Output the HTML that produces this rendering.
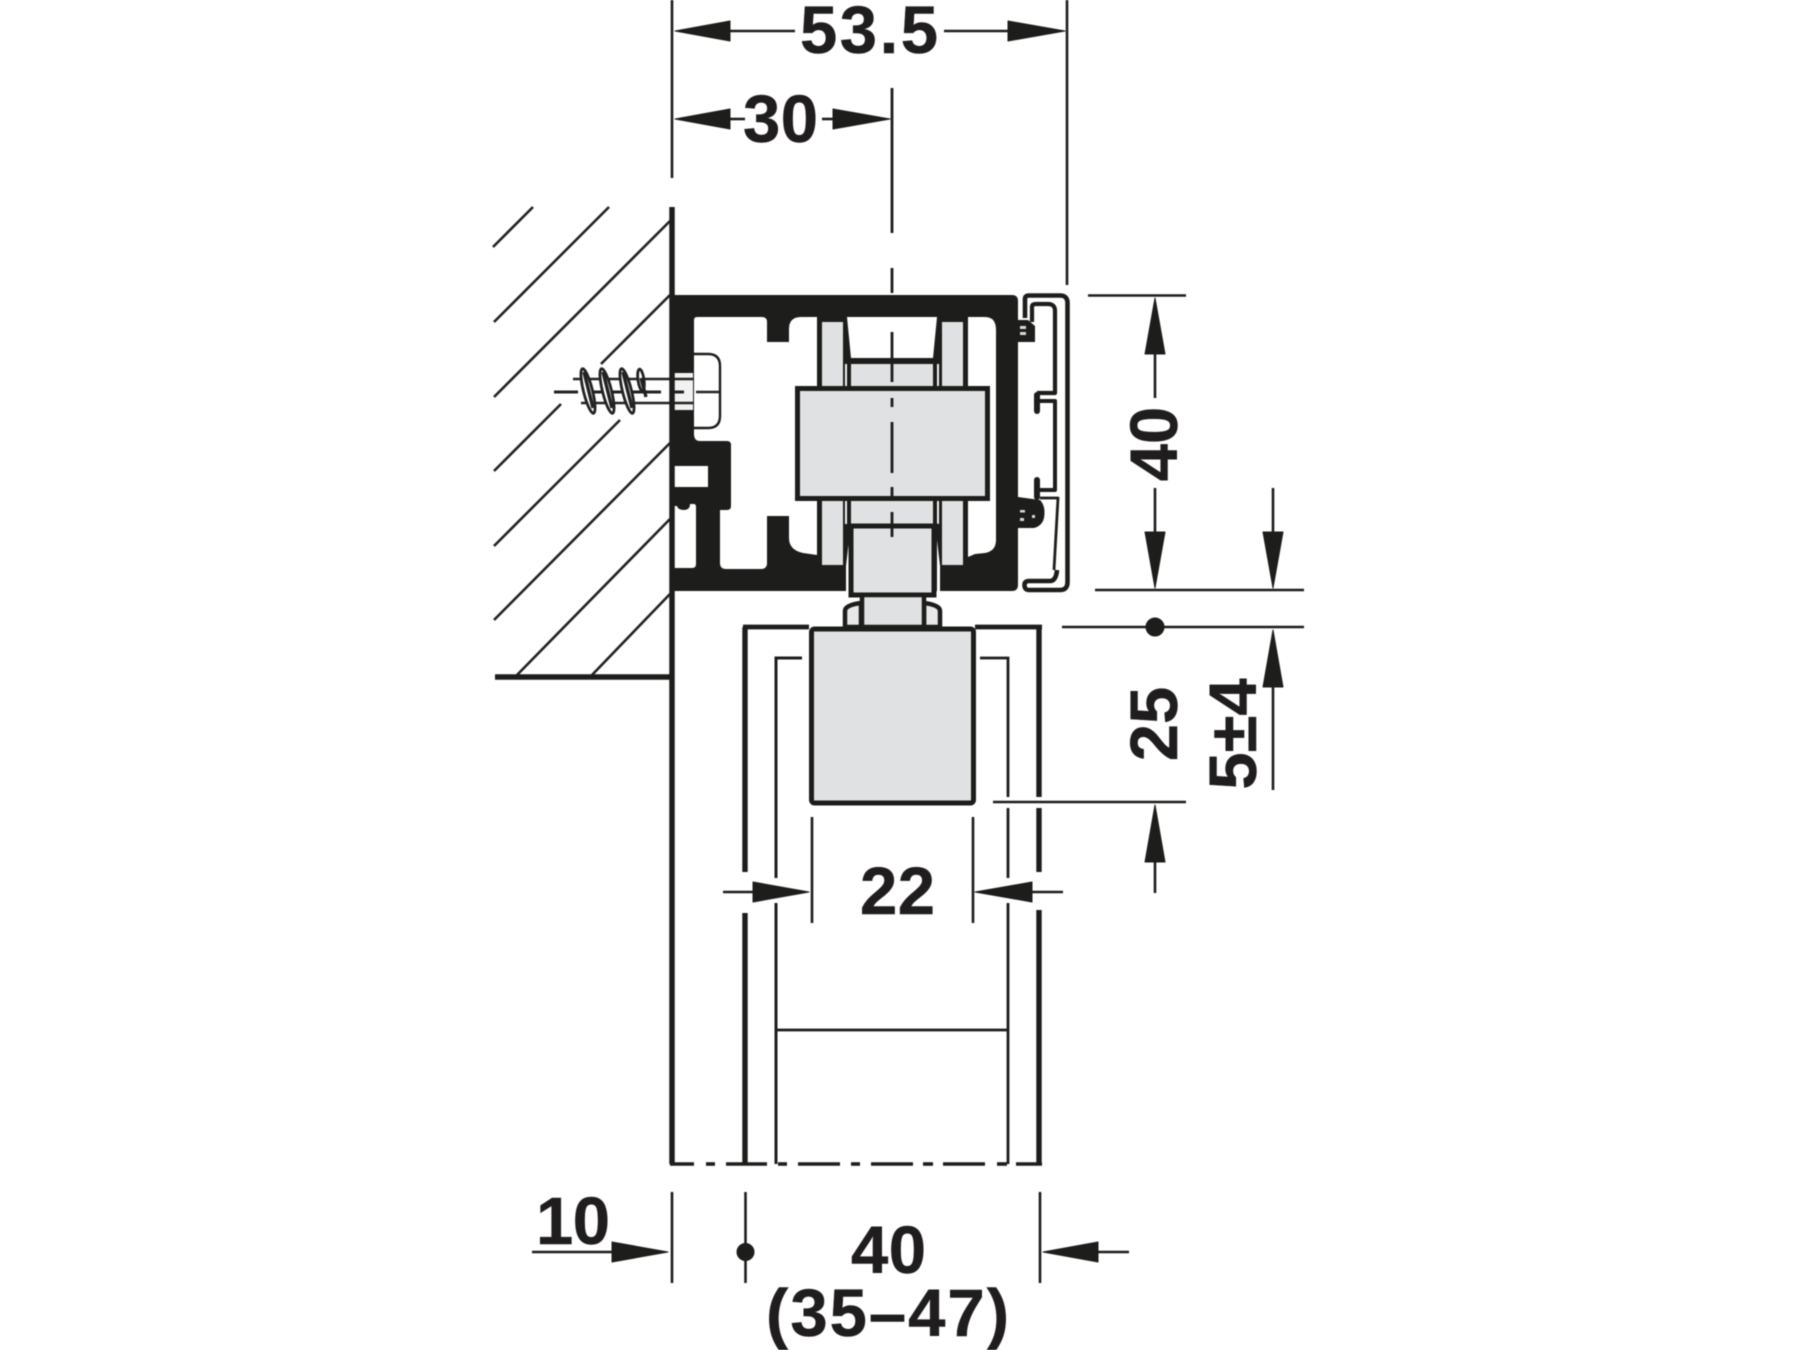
<!DOCTYPE html>
<html lang="en">
<head>
<meta charset="utf-8">
<title>Diagram</title>
<style>
html,body{margin:0;padding:0;background:#fff;width:1800px;height:1350px;overflow:hidden}
svg{display:block;filter:blur(.45px)}
text{font-family:"Liberation Sans",Arial,sans-serif;font-weight:700;font-size:67px;fill:#1f1d1e;stroke:#1f1d1e;stroke-width:.5}
</style>
</head>
<body>
<svg width="1800" height="1350" viewBox="0 0 1800 1350" xmlns="http://www.w3.org/2000/svg">
<rect width="1800" height="1350" fill="#fff"/>

<!-- hatching -->
<g stroke="#222" stroke-width="2.6" fill="none">
<line x1="493" y1="247" x2="533" y2="207"/>
<line x1="494" y1="322" x2="609" y2="207"/>
<line x1="494" y1="397" x2="670" y2="221"/>
<line x1="601" y1="364" x2="670" y2="295"/>
<line x1="561" y1="404" x2="494" y2="471"/>
<line x1="620" y1="420" x2="494" y2="546"/>
<line x1="670" y1="443" x2="494" y2="620"/>
<line x1="670" y1="519" x2="517" y2="675"/>
<line x1="670" y1="594" x2="592" y2="675"/>
</g>
<line x1="495" y1="677" x2="672" y2="677" stroke="#1d1d1b" stroke-width="5.5"/>

<!-- profile -->
<path d="M670 295H1012Q1018 295 1018 301V585Q1018 591 1012 591H670Z" fill="#1d1d1b"/>
<path d="M697 317H762Q767 317 767 322V342H789V329Q789 317 801 317H817V555L803 553Q789 550 789 538V516H767V563Q767 569 761 569H726Q720 569 720 563V510H727Q731 510 731 506V445Q731 441 727 441H700Q694 441 694 434V320Q694 317 697 317Z" fill="#fff"/>
<path d="M674 506H677Q678 510 684 510Q690 510 690 504H694Q696 504 696 507V564Q696 568 692 568H674Z" fill="#fff"/>
<rect x="674" y="466" width="34" height="21" fill="#fff"/>
<path d="M968 317H985Q996 317 996 330V540Q996 551 985 553L975 554L968 557Z" fill="#fff"/>
<rect x="822" y="322" width="21" height="243" fill="#e0e1e2"/>
<rect x="942" y="322" width="21" height="243" fill="#e0e1e2"/>
<polygon points="847,317 937,317 933,358 851,358" fill="#fff"/>
<rect x="851" y="364" width="82" height="24" fill="#e0e1e2"/>
<rect x="851" y="500" width="82" height="26" fill="#e0e1e2"/>
<rect x="845" y="364" width="2" height="24" fill="#f4f4f4"/>
<rect x="937" y="364" width="2" height="24" fill="#f4f4f4"/>
<rect x="845" y="500" width="2" height="24" fill="#f4f4f4"/>
<rect x="937" y="500" width="2" height="24" fill="#f4f4f4"/>
<polygon points="846,593 846,566 849,540 849,593" fill="#fff"/>
<polygon points="940,593 940,566 937,540 937,593" fill="#fff"/>

<!-- sliding block -->
<rect x="797.5" y="388.5" width="190" height="110" fill="#e0e1e2" stroke="#1d1d1b" stroke-width="5"/>
<rect x="851" y="526" width="83" height="69" fill="#e0e1e2" stroke="#1d1d1b" stroke-width="5"/>
<line x1="847" y1="526" x2="938" y2="526" stroke="#1d1d1b" stroke-width="5"/>
<path d="M845 627V611Q845 605 861 603V627Z" fill="#e8e8e9" stroke="#1d1d1b" stroke-width="4.5"/>
<path d="M940 627V611Q940 605 924 603V627Z" fill="#e8e8e9" stroke="#1d1d1b" stroke-width="4.5"/>
<rect x="862" y="595" width="62" height="32" fill="#e0e1e2" stroke="#1d1d1b" stroke-width="4.5"/>

<!-- right rail -->
<g fill="none" stroke="#1d1d1b" stroke-linejoin="round">
<path d="M1025 318V299Q1025 295.5 1029 295.5H1060Q1067.5 295.5 1067.5 303V582Q1067.5 590 1060 590H1029Q1024.5 590 1024.5 585Q1024.5 581 1029 581H1050Q1056 581 1057 570" stroke-width="4.6"/>
<path d="M1032 322V307Q1032 304 1036 304H1048Q1055 304 1055 311V393H1037" stroke-width="4.2"/>
<path d="M1037 395V411" stroke-width="6" stroke-linecap="round"/>
<path d="M1040 401H1055V490H1037V480" stroke-width="4"/>
<path d="M1037 497V480" stroke-width="6" stroke-linecap="round"/>
<path d="M1040 498H1058L1054 570" stroke-width="2.8"/>
</g>
<path d="M1018 320H1028L1035 326V342H1018Z" fill="#1d1d1b"/>
<path d="M1018 497L1040 500Q1046 506 1044 518Q1042 526 1034 528H1018Z" fill="#1d1d1b"/>
<g fill="#d8d8d8">
<rect x="1020" y="326" width="6" height="3"/>
<rect x="1020" y="332" width="6" height="3"/>
<rect x="1020" y="510" width="5" height="2.5"/>
<rect x="1020" y="518" width="4" height="3"/>
<rect x="1032" y="515" width="3" height="3"/>
</g>

<!-- screw -->
<path d="M694 354H708Q720 354 720 366V416Q720 428 708 428H694" fill="#fff" stroke="#1d1d1b" stroke-width="2.4"/>
<rect x="674" y="373" width="19" height="37" fill="#f2f2f2"/>
<g stroke="#222" stroke-width="2.4" fill="none">
<line x1="573" y1="379" x2="693" y2="379"/>
<line x1="581" y1="403" x2="693" y2="403"/>
<line x1="696" y1="392" x2="719" y2="392"/>
</g>
<g stroke="#222" stroke-width="3" fill="none">
<line x1="554" y1="392" x2="578" y2="392"/>
<line x1="587" y1="392" x2="661" y2="392"/>
<line x1="673" y1="392" x2="684" y2="392"/>
</g>
<g fill="#fff" stroke="#222" stroke-width="2.8">
<ellipse cx="588" cy="391" rx="4.5" ry="23" transform="rotate(-14 588 391)"/>
<ellipse cx="607" cy="391" rx="4.5" ry="23" transform="rotate(-14 607 391)"/>
<ellipse cx="627" cy="391" rx="4.5" ry="23" transform="rotate(-14 627 391)"/>
<ellipse cx="641" cy="380" rx="3" ry="11" transform="rotate(-8 641 380)"/>
</g>
<g stroke="#222" stroke-width="3.4">
<line x1="584" y1="372" x2="593" y2="408"/>
<line x1="603" y1="372" x2="612" y2="408"/>
<line x1="623" y1="372" x2="632" y2="408"/>
<line x1="641" y1="378" x2="646" y2="397"/>
</g>

<!-- wall line -->
<line x1="672" y1="207" x2="672" y2="1164" stroke="#1d1d1b" stroke-width="5.5"/>

<!-- door -->
<g fill="none" stroke="#1d1d1b">
<line x1="743" y1="627" x2="809" y2="627" stroke-width="4.8"/>
<line x1="975" y1="627" x2="1042" y2="627" stroke-width="4.8"/>
<path d="M745 627V872M745 913V1164" stroke-width="5.4"/>
<path d="M1039 627V797M1039 808V872M1039 910V1164" stroke-width="5.4"/>
<path d="M802 658H776V878M776 903V1164" stroke-width="3"/>
<path d="M980 658H1008V797M1008 808V878M1008 903V1164" stroke-width="2.8"/>
<line x1="776" y1="1030" x2="1008" y2="1030" stroke-width="2.8"/>
</g>
<rect x="811.5" y="629" width="162" height="174" rx="3" fill="#e0e1e2" stroke="#1d1d1b" stroke-width="5"/>
<g stroke="#1d1d1b" stroke-width="3.6">
<line x1="670" y1="1164" x2="694" y2="1164"/>
<line x1="706" y1="1164" x2="715" y2="1164"/>
<line x1="726" y1="1164" x2="767" y2="1164"/>
<line x1="778" y1="1164" x2="787" y2="1164"/>
<line x1="798" y1="1164" x2="840" y2="1164"/>
<line x1="851" y1="1164" x2="860" y2="1164"/>
<line x1="871" y1="1164" x2="913" y2="1164"/>
<line x1="923" y1="1164" x2="933" y2="1164"/>
<line x1="943" y1="1164" x2="985" y2="1164"/>
<line x1="997" y1="1164" x2="1007" y2="1164"/>
<line x1="1016" y1="1164" x2="1042" y2="1164"/>
</g>

<!-- centre line -->
<g stroke="#1d1d1b" stroke-width="2.8">
<line x1="892" y1="88" x2="892" y2="233"/>
<line x1="892" y1="268" x2="892" y2="293"/>
<line x1="892" y1="332" x2="892" y2="382"/>
<line x1="892" y1="398" x2="892" y2="407"/>
<line x1="892" y1="422" x2="892" y2="473"/>
<line x1="892" y1="487" x2="892" y2="496"/>
<line x1="892" y1="512" x2="892" y2="537"/>
</g>

<!-- dimension lines -->
<g stroke="#1d1d1b" stroke-width="2.6" fill="none">
<line x1="672" y1="0" x2="672" y2="178"/>
<line x1="1067" y1="0" x2="1067" y2="285"/>
<line x1="730" y1="31" x2="795" y2="31"/>
<line x1="944" y1="31" x2="1008" y2="31"/>
<line x1="730" y1="119" x2="745" y2="119"/>
<line x1="822" y1="119" x2="833" y2="119"/>
<line x1="1088" y1="295.5" x2="1186" y2="295.5"/>
<line x1="1095" y1="590" x2="1304" y2="590"/>
<line x1="1062" y1="627" x2="1304" y2="627"/>
<line x1="993" y1="802" x2="1186" y2="802"/>
<line x1="1155" y1="354" x2="1155" y2="398"/>
<line x1="1155" y1="488" x2="1155" y2="532"/>
<line x1="1273" y1="488" x2="1273" y2="532"/>
<line x1="1273" y1="687" x2="1273" y2="790"/>
<line x1="1155" y1="862" x2="1155" y2="893"/>
<line x1="812" y1="817" x2="812" y2="923"/>
<line x1="973" y1="817" x2="973" y2="923"/>
<line x1="723" y1="892" x2="753" y2="892"/>
<line x1="1032" y1="892" x2="1063" y2="892"/>
<line x1="672" y1="1192" x2="672" y2="1283"/>
<line x1="745.5" y1="1192" x2="745.5" y2="1283"/>
<line x1="1040" y1="1192" x2="1040" y2="1283"/>
<line x1="532" y1="1252" x2="612" y2="1252"/>
<line x1="1098" y1="1252" x2="1129" y2="1252"/>
</g>

<!-- arrowheads -->
<g fill="#1d1d1b" stroke="#1d1d1b" stroke-width="1" stroke-linejoin="round">
<polygon points="675,31 730,21 730,41"/>
<polygon points="1065,31 1008,21 1008,41"/>
<polygon points="675,119 730,109 730,129"/>
<polygon points="890,119 833,109 833,129"/>
<polygon points="1155,298 1145,354 1165,354"/>
<polygon points="1155,588 1145,532 1165,532"/>
<polygon points="1273,588 1263,532 1283,532"/>
<polygon points="1273,630 1263,687 1283,687"/>
<polygon points="1155,805 1145,862 1165,862"/>
<polygon points="809,892 753,882 753,902"/>
<polygon points="975,892 1032,882 1032,902"/>
<polygon points="668,1252 612,1242 612,1262"/>
<polygon points="1043,1252 1098,1242 1098,1262"/>
<circle cx="1155" cy="627" r="9"/>
<circle cx="745.5" cy="1252" r="8.5"/>
</g>

<!-- labels -->
<text x="800" y="53" textLength="138" lengthAdjust="spacing">53.5</text>
<text x="743" y="142" textLength="75" lengthAdjust="spacing">30</text>
<text x="860" y="914" textLength="75" lengthAdjust="spacing">22</text>
<text x="536" y="1244" textLength="74" lengthAdjust="spacing">10</text>
<text x="851" y="1273" textLength="75" lengthAdjust="spacing">40</text>
<text x="766" y="1336" textLength="243" lengthAdjust="spacing">(35–47)</text>
<text transform="translate(1177 444) rotate(-90)" text-anchor="middle">40</text>
<text transform="translate(1177 724) rotate(-90)" text-anchor="middle">25</text>
<text transform="translate(1256 734) rotate(-90)" text-anchor="middle">5±4</text>
</svg>
</body>
</html>
